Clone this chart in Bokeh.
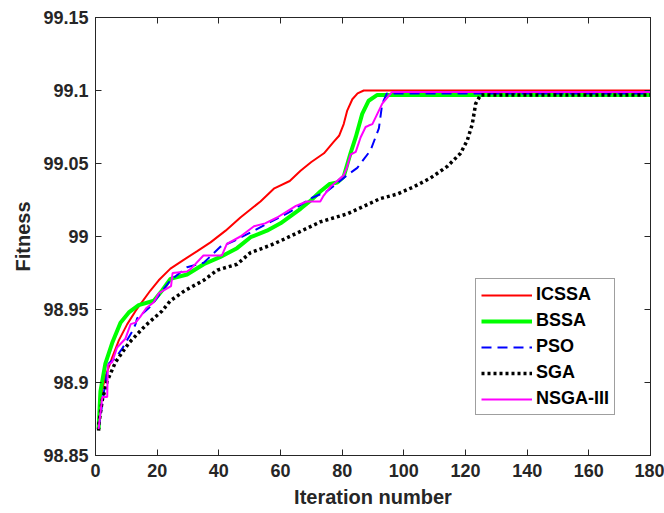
from bokeh.plotting import figure
from bokeh.models import LinearAxis, FixedTicker, Legend, LegendItem, Range1d, CustomJSTickFormatter
from bokeh.embed import file_html
from bokeh.resources import INLINE

# ---- data ----
icssa_x = [1, 1.6, 3.2, 5.4, 7.6, 10.3, 13, 17.8, 20.5, 24.3, 28.6, 33, 37.3, 42.2, 47, 53.5, 58, 63,
           66.5, 70, 74.1, 77.3, 79, 80.5, 81.6, 83.3, 85, 87, 180]
icssa_y = [98.868, 98.890, 98.904, 98.917, 98.929, 98.940, 98.949, 98.963, 98.970, 98.978, 98.984,
           98.990, 98.996, 99.004, 99.013, 99.024, 99.033, 99.038, 99.045, 99.051, 99.057, 99.065,
           99.069, 99.077, 99.086, 99.094, 99.098, 99.100, 99.100]

bssa_x = [1, 1.6, 3.2, 5.4, 8.1, 10.8, 14, 18.9, 21.6, 24.3, 29.7, 35.1, 40.5, 45.9, 50.3, 55.6, 60,
          66.5, 70, 73, 76, 78.4, 80.5, 82.7, 84.4, 86.5, 88.6, 91.4, 180]
bssa_y = [98.868, 98.894, 98.913, 98.927, 98.941, 98.948, 98.953, 98.956, 98.963, 98.971, 98.974,
          98.981, 98.986, 98.992, 98.9995, 99.004, 99.009, 99.019, 99.025, 99.031, 99.036, 99.037,
          99.041, 99.057, 99.068, 99.084, 99.093, 99.097, 99.097]

pso_x = [1, 2.7, 4.3, 6.5, 8.6, 11.9, 13, 13.5, 16.2, 17.8, 21, 24.3, 29.7, 35.1, 40.5, 45, 51.4,
         56.8, 63.2, 69.7, 75.1, 81.6, 84.9, 89.2, 91.9, 93, 94.5, 180]
pso_y = [98.868, 98.893, 98.913, 98.917, 98.923, 98.935, 98.940, 98.944, 98.949, 98.952, 98.961,
         98.970, 98.979, 98.982, 98.993, 98.997, 99.004, 99.010, 99.017, 99.026, 99.031, 99.042,
         99.047, 99.059, 99.074, 99.091, 99.098, 99.098]

sga_x = [1, 1.1, 2.2, 3.8, 6.5, 10.8, 16.2, 21.6, 24.3, 29, 35.1, 39.5, 45.9, 50.3, 56.8, 61, 66,
         72.9, 81.6, 92.4, 97.8, 103.2, 108.6, 114.1, 118.4, 120.6, 122.2, 123.3, 124.9, 180]
sga_y = [98.867, 98.872, 98.888, 98.901, 98.914, 98.927, 98.939, 98.949, 98.956, 98.963, 98.970,
         98.977, 98.981, 98.989, 98.994, 98.998, 99.003, 99.010, 99.0155, 99.026, 99.029, 99.034,
         99.040, 99.048, 99.057, 99.066, 99.077, 99.091, 99.097, 99.097]

nsga_x = [1, 2.2, 3.8, 4.0, 5.4, 7, 9.7, 11.4, 13, 14.5, 16.5, 18.9, 20.5, 22, 24.5, 25, 29.7, 31,
          35, 41, 42.6, 47, 51.4, 55, 58.9, 62, 65, 68.5, 72.9, 74, 76.2, 78.4, 80.5, 81.5, 82.7,
          84.4, 86, 87.6, 88.6, 89.8, 91.4, 93, 96.2, 180]
nsga_y = [98.868, 98.890, 98.890, 98.912, 98.914, 98.924, 98.930, 98.940, 98.941, 98.945, 98.951,
          98.955, 98.961, 98.963, 98.966, 98.975, 98.976, 98.978, 98.987, 98.987, 98.995, 99.000,
          99.007, 99.009, 99.013, 99.017, 99.021, 99.024, 99.024, 99.028, 99.034, 99.038, 99.042,
          99.047, 99.056, 99.058, 99.068, 99.075, 99.076, 99.077, 99.084, 99.091, 99.099, 99.099]

x_ticks = [0, 20, 40, 60, 80, 100, 120, 140, 160, 180]
x_tick_labels = ["0", "20", "40", "60", "80", "100", "120", "140", "160", "180"]
y_ticks = [98.85, 98.9, 98.95, 99.0, 99.05, 99.1, 99.15]
y_tick_labels = ["98.85", "98.9", "98.95", "99", "99.05", "99.1", "99.15"]

AX = "#262626"
FONT = "Liberation Sans"

p = figure(width=664, height=513, output_backend="svg", toolbar_location=None,
           x_range=Range1d(0, 180), y_range=Range1d(98.85, 99.15),
           min_border_left=95, min_border_right=14, min_border_top=17, min_border_bottom=58)
p.xaxis.visible = False
p.yaxis.visible = False
p.grid.visible = False
p.outline_line_color = AX
p.background_fill_color = "white"
p.border_fill_color = "white"

code = """
let best = 0;
for (let i = 0; i < vals.length; i++) {
  if (Math.abs(vals[i] - tick) < Math.abs(vals[best] - tick)) best = i;
}
return labs[best];
"""
blank = CustomJSTickFormatter(code="return '';")


def style(ax, labels=True):
    ax.axis_line_color = AX
    ax.axis_line_width = 1
    ax.major_tick_line_color = AX
    ax.major_tick_in = 6
    ax.major_tick_out = 0
    ax.minor_tick_line_color = None
    ax.major_label_text_font = FONT
    ax.major_label_text_font_style = "bold"
    ax.major_label_text_color = AX
    ax.axis_label_text_font = FONT
    ax.axis_label_text_font_style = "bold"
    ax.axis_label_text_color = AX
    if labels:
        ax.major_label_text_font_size = "18px"
        ax.axis_label_text_font_size = "20px"
    else:
        ax.major_label_text_font_size = "0px"
        ax.major_label_standoff = 0


xb = LinearAxis(ticker=FixedTicker(ticks=x_ticks),
                formatter=CustomJSTickFormatter(args=dict(vals=x_ticks, labs=x_tick_labels), code=code),
                axis_label="Iteration number")
style(xb)
xb.major_label_standoff = 8
xb.axis_label_standoff = 6
p.add_layout(xb, "below")

yl = LinearAxis(ticker=FixedTicker(ticks=y_ticks),
                formatter=CustomJSTickFormatter(args=dict(vals=y_ticks, labs=y_tick_labels), code=code),
                axis_label="Fitness")
style(yl)
yl.major_label_standoff = 7
yl.axis_label_standoff = 6
p.add_layout(yl, "left")

xt = LinearAxis(ticker=FixedTicker(ticks=x_ticks), formatter=blank)
style(xt, labels=False)
p.add_layout(xt, "above")

yr = LinearAxis(ticker=FixedTicker(ticks=y_ticks), formatter=blank)
style(yr, labels=False)
p.add_layout(yr, "right")

r1 = p.line(icssa_x, icssa_y, line_color="#FF0000", line_width=2)
r2 = p.line(bssa_x, bssa_y, line_color="#00FF00", line_width=4)
r3 = p.line(pso_x, pso_y, line_color="#0000FF", line_width=2, line_dash="10 6")
r4 = p.line(sga_x, sga_y, line_color="#000000", line_width=3.5, line_dash="3 3")
r5 = p.line(nsga_x, nsga_y, line_color="#FF00FF", line_width=2)

legend = Legend(items=[LegendItem(label="ICSSA", renderers=[r1]),
                       LegendItem(label="BSSA", renderers=[r2]),
                       LegendItem(label="PSO", renderers=[r3]),
                       LegendItem(label="SGA", renderers=[r4]),
                       LegendItem(label="NSGA-III", renderers=[r5])],
                location=(380, 40), margin=0, padding=5, spacing=5,
                glyph_width=51, glyph_height=20, label_height=20, label_standoff=4,
                label_text_font=FONT, label_text_font_style="bold", label_text_font_size="18px",
                label_text_color="#000000", border_line_color="#404040", border_line_width=1,
                background_fill_color="white", background_fill_alpha=1)
p.add_layout(legend, "center")

open("out.html", "w").write(file_html(p, INLINE))
